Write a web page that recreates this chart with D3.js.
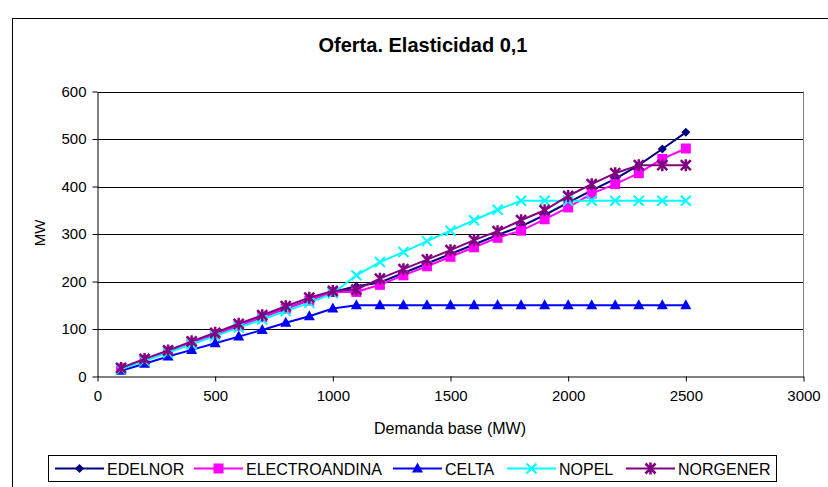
<!DOCTYPE html>
<html>
<head>
<meta charset="utf-8">
<script src="https://cdn.jsdelivr.net/npm/d3@7"></script>
<style>
  html, body { margin: 0; padding: 0; background: #fff; }
  svg { display: block; font-family: "Liberation Sans", Arial, sans-serif; }
</style>
</head>
<body>
<svg id="chart" width="828" height="487"></svg>
<script>
// Base demand steps (MW)
const demand = [100, 200, 300, 400, 500, 600, 700, 800, 900, 1000, 1100, 1200, 1300,
                1400, 1500, 1600, 1700, 1800, 1900, 2000, 2100, 2200, 2300, 2400, 2500];

// Supply per generator (MW)
const edelnor = [17, 35, 53, 71, 89, 107, 125, 143, 161, 178, 190, 198, 218, 238, 258,
                 278, 298, 316, 340, 366, 392, 416, 445, 479, 514];
const electroandina = [17, 35, 53, 71, 89, 107, 125, 143, 160, 178, 178, 193, 213, 232, 252,
                       272, 292, 307, 331, 356, 385, 405, 428, 458, 480];
const celta = [12, 27, 42, 56, 70, 84, 98, 113, 127, 143, 150, 150, 150, 150, 150,
               150, 150, 150, 150, 150, 150, 150, 150, 150, 150];
const nopel = [15, 33, 50, 68, 85, 103, 120, 138, 155, 175, 213, 241, 262, 285, 307,
               329, 351, 370, 370, 370, 370, 370, 370, 370, 370];
const norgener = [18, 37, 55, 74, 92, 111, 129, 148, 166, 180, 183, 206, 226, 246, 266,
                  287, 306, 329, 350, 380, 405, 428, 445, 445, 445];

const seriesNames = ["EDELNOR", "ELECTROANDINA", "CELTA", "NOPEL", "NORGENER"];
const seriesValues = [edelnor, electroandina, celta, nopel, norgener];
const seriesColors = ["#000080", "#FF00FF", "#0000FF", "#00FFFF", "#800080"];
const seriesMarkers = ["diamond", "square", "triangle", "x", "asterisk"];

const xTicks = [0, 500, 1000, 1500, 2000, 2500, 3000];
const yTicks = [0, 100, 200, 300, 400, 500, 600];

const svg = d3.select("#chart");

// Outer chart frame
svg.append("rect")
  .attr("x", 12.5).attr("y", 18.5)
  .attr("width", 830).attr("height", 500)
  .attr("fill", "#fff").attr("stroke", "#000").attr("stroke-width", 1);

const plot = { left: 97.5, right: 803.5, top: 91.5, bottom: 376.5 };

const x = d3.scaleLinear().domain([0, 3000]).range([plot.left, plot.right]);
const y = d3.scaleLinear().domain([0, 600]).range([plot.bottom, plot.top]);

// Title
svg.append("text")
  .attr("x", 423).attr("y", 52)
  .attr("text-anchor", "middle")
  .attr("font-size", 20).attr("font-weight", "bold")
  .text("Oferta. Elasticidad 0,1");

// Horizontal gridlines
svg.append("g")
  .selectAll("line")
  .data(yTicks.filter(d => d > 0))
  .join("line")
  .attr("x1", plot.left).attr("x2", plot.right)
  .attr("y1", d => Math.round(y(d)) + 0.5).attr("y2", d => Math.round(y(d)) + 0.5)
  .attr("stroke", "#000").attr("stroke-width", 1);

// Plot area right border
svg.append("line")
  .attr("x1", plot.right).attr("x2", plot.right)
  .attr("y1", plot.top).attr("y2", plot.bottom)
  .attr("stroke", "#808080").attr("stroke-width", 1);

// Axes
const xAxis = d3.axisBottom(x).tickValues(xTicks).tickFormat(d3.format("d"))
  .tickSize(5).tickSizeOuter(0).tickPadding(9);
const yAxis = d3.axisLeft(y).tickValues(yTicks).tickFormat(d3.format("d"))
  .tickSize(5).tickSizeOuter(0).tickPadding(6);

const gx = svg.append("g")
  .attr("transform", `translate(0,${plot.bottom})`)
  .call(xAxis);
const gy = svg.append("g")
  .attr("transform", `translate(${plot.left},0)`)
  .call(yAxis);

[gx, gy].forEach(g => {
  g.selectAll("text").attr("font-size", 15).attr("fill", "#000")
    .attr("font-family", "Liberation Sans, Arial, sans-serif");
  g.selectAll("line").attr("stroke", "#000");
  g.select(".domain").attr("stroke", "#000");
});

// Axis titles
svg.append("text")
  .attr("x", 450).attr("y", 434)
  .attr("text-anchor", "middle").attr("font-size", 16)
  .text("Demanda base (MW)");
svg.append("text")
  .attr("transform", "translate(45,233) rotate(-90)")
  .attr("text-anchor", "middle").attr("font-size", 15)
  .text("MW");

// Marker drawing
function drawMarker(g, type, color, size) {
  const s = size;
  switch (type) {
    case "diamond":
      g.append("path").attr("d", `M0,${-s}L${s},0L0,${s}L${-s},0Z`).attr("fill", color);
      break;
    case "square":
      g.append("rect").attr("x", -s).attr("y", -s).attr("width", 2 * s).attr("height", 2 * s)
        .attr("fill", color);
      break;
    case "triangle":
      g.append("path").attr("d", `M0,${-s - 1}L${s + 0.5},${s - 1}L${-s - 0.5},${s - 1}Z`).attr("fill", color);
      break;
    case "x":
      g.append("path").attr("d", `M${-s},${-s}L${s},${s}M${-s},${s}L${s},${-s}`)
        .attr("stroke", color).attr("stroke-width", 2).attr("fill", "none");
      break;
    case "asterisk":
      g.append("path").attr("d", `M${-s},${-s}L${s},${s}M${-s},${s}L${s},${-s}M0,${-s - 1}L0,${s + 1}`)
        .attr("stroke", color).attr("stroke-width", 2.5).attr("fill", "none");
      break;
  }
}

const line = d3.line().x((d, i) => x(demand[i])).y(d => y(d));

const markerSizes = { diamond: 4.5, square: 5, triangle: 5, x: 5, asterisk: 5 };

seriesNames.forEach((name, si) => {
  const vals = seriesValues[si];
  const color = seriesColors[si];
  const g = svg.append("g").attr("class", "series");
  g.append("path")
    .datum(vals)
    .attr("d", line)
    .attr("fill", "none")
    .attr("stroke", color)
    .attr("stroke-width", 2);
  g.selectAll("g.pt")
    .data(vals)
    .join("g")
    .attr("class", "pt")
    .attr("transform", (d, i) => `translate(${x(demand[i])},${y(d)})`)
    .each(function () { drawMarker(d3.select(this), seriesMarkers[si], color, markerSizes[seriesMarkers[si]]); });
});

// Legend
const legend = svg.append("g");
legend.append("rect")
  .attr("x", 48.5).attr("y", 455.5)
  .attr("width", 728).attr("height", 26)
  .attr("fill", "#fff").attr("stroke", "#000");

const legendX = [55, 194, 393, 507, 626];
seriesNames.forEach((name, si) => {
  const g = legend.append("g").attr("transform", `translate(${legendX[si]},468.5)`);
  g.append("line").attr("x1", 0).attr("x2", 49).attr("y1", 0).attr("y2", 0)
    .attr("stroke", seriesColors[si]).attr("stroke-width", 2);
  const m = g.append("g").attr("transform", "translate(24.5,0)");
  drawMarker(m, seriesMarkers[si], seriesColors[si], markerSizes[seriesMarkers[si]]);
  g.append("text").attr("x", 52).attr("y", 6)
    .attr("font-size", 16).text(name);
});
</script>
</body>
</html>
